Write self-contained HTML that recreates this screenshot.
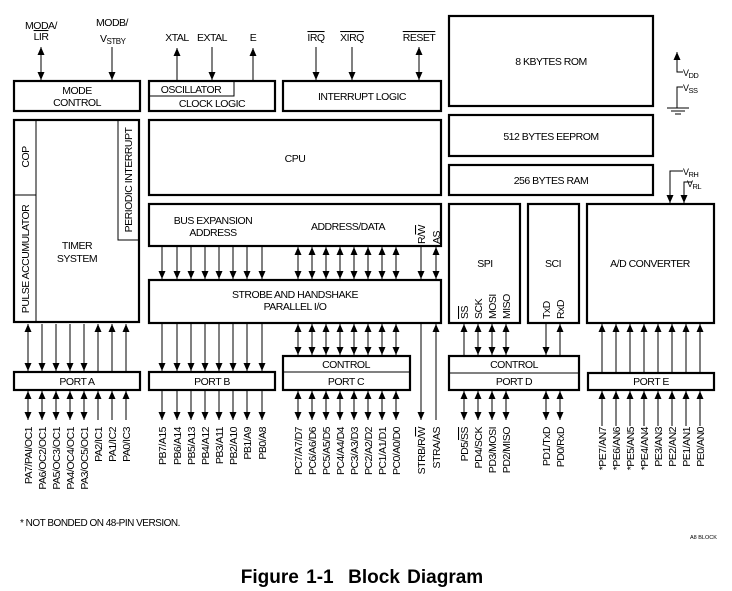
<!DOCTYPE html>
<html><head><meta charset="utf-8"><style>
html,body{margin:0;padding:0;background:#fff}
svg{display:block}
text{font-family:"Liberation Sans",Arial,sans-serif;font-size:10.5px;fill:#000;letter-spacing:-0.5px}
.b{fill:none;stroke:#000;stroke-width:2.2}
.l{stroke:#000;stroke-width:1;fill:none}
</style></head><body>
<svg width="732" height="591" viewBox="0 0 732 591" xmlns="http://www.w3.org/2000/svg">
<defs>
<marker id="a" markerUnits="userSpaceOnUse" markerWidth="8" markerHeight="10" refX="8" refY="3.5" orient="auto-start-reverse"><path d="M0,0 L8,3.5 L0,7 Z" fill="#000"/></marker>
</defs>

<rect class="b" x="14" y="81" width="126" height="30"/>
<text x="77" y="94" text-anchor="middle">MODE</text>
<text x="77" y="106" text-anchor="middle">CONTROL</text>
<rect class="b" x="149" y="81" width="126" height="30"/>
<path class="l" d="M149,96 H234 V81"/>
<text x="191" y="93" text-anchor="middle">OSCILLATOR</text>
<text x="212" y="107" text-anchor="middle">CLOCK LOGIC</text>
<rect class="b" x="283" y="81" width="158" height="30"/>
<text x="362" y="100" text-anchor="middle">INTERRUPT LOGIC</text>

<rect class="b" x="449" y="16" width="204" height="90"/>
<text x="551" y="65" text-anchor="middle">8 KBYTES ROM</text>
<rect class="b" x="449" y="115" width="204" height="41"/>
<text x="551" y="140" text-anchor="middle">512 BYTES EEPROM</text>
<rect class="b" x="449" y="165" width="204" height="30"/>
<text x="551" y="184" text-anchor="middle">256 BYTES RAM</text>

<rect class="b" x="14" y="120" width="125" height="202"/>
<path class="l" d="M36,120 V322 M14,195 H36 M118,120 V240 H139"/>
<text transform="translate(29,157) rotate(-90)" text-anchor="middle">COP</text>
<text transform="translate(29,259) rotate(-90)" text-anchor="middle">PULSE ACCUMULATOR</text>
<text transform="translate(132,180) rotate(-90)" text-anchor="middle">PERIODIC INTERRUPT</text>
<text x="77" y="249" text-anchor="middle">TIMER</text>
<text x="77" y="262" text-anchor="middle">SYSTEM</text>

<rect class="b" x="149" y="120" width="292" height="75"/>
<text x="295" y="162" text-anchor="middle">CPU</text>
<rect class="b" x="149" y="204" width="292" height="42"/>
<text x="213" y="224" text-anchor="middle">BUS EXPANSION</text>
<text x="213" y="236" text-anchor="middle">ADDRESS</text>
<text x="348" y="230" text-anchor="middle">ADDRESS/DATA</text>
<text transform="translate(425,244) rotate(-90)" text-anchor="start">R/<tspan text-decoration="overline">W</tspan></text>
<text transform="translate(440,244) rotate(-90)" text-anchor="start">AS</text>
<rect class="b" x="149" y="280" width="292" height="43"/>
<text x="295" y="298" text-anchor="middle">STROBE AND HANDSHAKE</text>
<text x="295" y="310" text-anchor="middle">PARALLEL I/O</text>

<rect class="b" x="449" y="204" width="71" height="119"/>
<text x="485" y="267" text-anchor="middle">SPI</text>
<rect class="b" x="528" y="204" width="51" height="119"/>
<text x="553" y="267" text-anchor="middle">SCI</text>
<rect class="b" x="587" y="204" width="127" height="119"/>
<text x="650" y="267" text-anchor="middle">A/D CONVERTER</text>
<text transform="translate(468,319) rotate(-90)"><tspan text-decoration="overline">SS</tspan></text>
<text transform="translate(482,319) rotate(-90)">SCK</text>
<text transform="translate(496,319) rotate(-90)">MOSI</text>
<text transform="translate(510,319) rotate(-90)">MISO</text>
<text transform="translate(550,319) rotate(-90)">TxD</text>
<text transform="translate(564,319) rotate(-90)">RxD</text>

<rect class="b" x="14" y="372" width="126" height="18"/>
<text x="77" y="385" text-anchor="middle">PORT A</text>
<rect class="b" x="149" y="372" width="126" height="18"/>
<text x="212" y="385" text-anchor="middle">PORT B</text>
<rect class="b" x="283" y="356" width="127" height="34"/>
<path class="l" d="M283,372 H410"/>
<text x="346" y="368" text-anchor="middle">CONTROL</text>
<text x="346" y="385" text-anchor="middle">PORT C</text>
<rect class="b" x="449" y="356" width="130" height="34"/>
<path class="l" d="M449,373 H579"/>
<text x="514" y="368" text-anchor="middle">CONTROL</text>
<text x="514" y="385" text-anchor="middle">PORT D</text>
<rect class="b" x="588" y="373" width="126" height="17"/>
<text x="651" y="385" text-anchor="middle">PORT E</text>

<text x="41" y="29" text-anchor="middle">MODA/</text>
<text x="41" y="40" text-anchor="middle"><tspan text-decoration="overline">LIR</tspan></text>
<line class="l" x1="41" y1="47" x2="41" y2="80" marker-start="url(#a)" marker-end="url(#a)"/>
<text x="112" y="26" text-anchor="middle">MODB/</text>
<text x="100" y="42">V<tspan font-size="8" dy="2">STBY</tspan></text>
<line class="l" x1="112" y1="47" x2="112" y2="80" marker-end="url(#a)"/>
<text x="177" y="41" text-anchor="middle">XTAL</text>
<line class="l" x1="177" y1="81" x2="177" y2="48" marker-end="url(#a)"/>
<text x="212" y="41" text-anchor="middle">EXTAL</text>
<line class="l" x1="212" y1="47" x2="212" y2="80" marker-end="url(#a)"/>
<text x="253" y="41" text-anchor="middle">E</text>
<line class="l" x1="253" y1="81" x2="253" y2="48" marker-end="url(#a)"/>
<text x="316" y="41" text-anchor="middle"><tspan text-decoration="overline">IRQ</tspan></text>
<line class="l" x1="316" y1="47" x2="316" y2="80" marker-end="url(#a)"/>
<text x="352" y="41" text-anchor="middle"><tspan text-decoration="overline">XIRQ</tspan></text>
<line class="l" x1="352" y1="47" x2="352" y2="80" marker-end="url(#a)"/>
<text x="419" y="41" text-anchor="middle"><tspan text-decoration="overline">RESET</tspan></text>
<line class="l" x1="419" y1="47" x2="419" y2="80" marker-start="url(#a)" marker-end="url(#a)"/>

<path class="l" d="M683,72 H677 V52" marker-end="url(#a)"/>
<text x="683" y="76" style="font-size:9px">V<tspan font-size="7.5" dy="2">DD</tspan></text>
<path class="l" d="M683,87 H677 V108 M667,108 H689 M671,111 H685 M675,114 H681"/>
<text x="683" y="91" style="font-size:9px">V<tspan font-size="7.5" dy="2">SS</tspan></text>
<path class="l" d="M683,171 H670 V203" marker-end="url(#a)"/>
<path class="l" d="M692,182 H684 V203" marker-end="url(#a)"/>
<text x="683" y="175" style="font-size:9px">V<tspan font-size="7.5" dy="2">RH</tspan></text>
<text x="687" y="187" style="font-size:9px">V<tspan font-size="7.5" dy="2">RL</tspan></text>

<g class="l">
<line x1="28" y1="324" x2="28" y2="371" marker-start="url(#a)" marker-end="url(#a)"/>
<line x1="42" y1="324" x2="42" y2="371" marker-end="url(#a)"/>
<line x1="56" y1="324" x2="56" y2="371" marker-end="url(#a)"/>
<line x1="70" y1="324" x2="70" y2="371" marker-end="url(#a)"/>
<line x1="84" y1="324" x2="84" y2="371" marker-end="url(#a)"/>
<line x1="98" y1="371" x2="98" y2="324" marker-end="url(#a)"/>
<line x1="112" y1="371" x2="112" y2="324" marker-end="url(#a)"/>
<line x1="126" y1="371" x2="126" y2="324" marker-end="url(#a)"/>
<line x1="28" y1="391" x2="28" y2="420" marker-start="url(#a)" marker-end="url(#a)"/>
<line x1="42" y1="391" x2="42" y2="420" marker-start="url(#a)" marker-end="url(#a)"/>
<line x1="56" y1="391" x2="56" y2="420" marker-start="url(#a)" marker-end="url(#a)"/>
<line x1="70" y1="391" x2="70" y2="420" marker-start="url(#a)" marker-end="url(#a)"/>
<line x1="84" y1="391" x2="84" y2="420" marker-start="url(#a)" marker-end="url(#a)"/>
<line x1="98" y1="420" x2="98" y2="391" marker-end="url(#a)"/>
<line x1="112" y1="420" x2="112" y2="391" marker-end="url(#a)"/>
<line x1="126" y1="420" x2="126" y2="391" marker-end="url(#a)"/>
<path marker-end="url(#a)" d="M162,247 V279"/><path marker-end="url(#a)" d="M177,247 V279"/><path marker-end="url(#a)" d="M191,247 V279"/><path marker-end="url(#a)" d="M205,247 V279"/><path marker-end="url(#a)" d="M219,247 V279"/><path marker-end="url(#a)" d="M233,247 V279"/><path marker-end="url(#a)" d="M247,247 V279"/><path marker-end="url(#a)" d="M262,247 V279"/>
<path marker-end="url(#a)" d="M162,324 V371"/><path marker-end="url(#a)" d="M177,324 V371"/><path marker-end="url(#a)" d="M191,324 V371"/><path marker-end="url(#a)" d="M205,324 V371"/><path marker-end="url(#a)" d="M219,324 V371"/><path marker-end="url(#a)" d="M233,324 V371"/><path marker-end="url(#a)" d="M247,324 V371"/><path marker-end="url(#a)" d="M262,324 V371"/>
<path marker-end="url(#a)" d="M162,391 V420"/><path marker-end="url(#a)" d="M177,391 V420"/><path marker-end="url(#a)" d="M191,391 V420"/><path marker-end="url(#a)" d="M205,391 V420"/><path marker-end="url(#a)" d="M219,391 V420"/><path marker-end="url(#a)" d="M233,391 V420"/><path marker-end="url(#a)" d="M247,391 V420"/><path marker-end="url(#a)" d="M262,391 V420"/>
<g marker-start="url(#a)" marker-end="url(#a)">
<path d="M298,247 V279"/><path d="M312,247 V279"/><path d="M326,247 V279"/><path d="M340,247 V279"/><path d="M354,247 V279"/><path d="M368,247 V279"/><path d="M382,247 V279"/><path d="M396,247 V279"/>
<path d="M298,324 V355"/><path d="M312,324 V355"/><path d="M326,324 V355"/><path d="M340,324 V355"/><path d="M354,324 V355"/><path d="M368,324 V355"/><path d="M382,324 V355"/><path d="M396,324 V355"/>
<path d="M298,391 V420"/><path d="M312,391 V420"/><path d="M326,391 V420"/><path d="M340,391 V420"/><path d="M354,391 V420"/><path d="M368,391 V420"/><path d="M382,391 V420"/><path d="M396,391 V420"/>
<path d="M436,247 V279"/>
<path d="M478,324 V355"/><path d="M492,324 V355"/><path d="M506,324 V355"/>
<path d="M464,391 V420"/><path d="M478,391 V420"/><path d="M492,391 V420"/><path d="M506,391 V420"/>
<path d="M546,391 V420"/><path d="M560,391 V420"/>
</g>
<path marker-end="url(#a)" d="M421,247 V279"/>
<path marker-end="url(#a)" d="M421,324 V420"/>
<path marker-end="url(#a)" d="M436,420 V324"/>
<path marker-end="url(#a)" d="M464,355 V324"/>
<path marker-end="url(#a)" d="M546,324 V355"/>
<path marker-end="url(#a)" d="M560,355 V324"/>
<path marker-end="url(#a)" d="M602,372 V324"/><path marker-end="url(#a)" d="M616,372 V324"/><path marker-end="url(#a)" d="M630,372 V324"/><path marker-end="url(#a)" d="M644,372 V324"/><path marker-end="url(#a)" d="M658,372 V324"/><path marker-end="url(#a)" d="M672,372 V324"/><path marker-end="url(#a)" d="M686,372 V324"/><path marker-end="url(#a)" d="M700,372 V324"/>
<path marker-end="url(#a)" d="M602,426 V391"/><path marker-end="url(#a)" d="M616,426 V391"/><path marker-end="url(#a)" d="M630,426 V391"/><path marker-end="url(#a)" d="M644,426 V391"/><path marker-end="url(#a)" d="M658,426 V391"/><path marker-end="url(#a)" d="M672,426 V391"/><path marker-end="url(#a)" d="M686,426 V391"/><path marker-end="url(#a)" d="M700,426 V391"/>
</g>

<g text-anchor="end">
<text transform="translate(32,427) rotate(-90)">PA7/PAI/OC1</text>
<text transform="translate(46,427) rotate(-90)">PA6/OC2/OC1</text>
<text transform="translate(60,427) rotate(-90)">PA5/OC3/OC1</text>
<text transform="translate(74,427) rotate(-90)">PA4/OC4/OC1</text>
<text transform="translate(88,427) rotate(-90)">PA3/OC5/OC1</text>
<text transform="translate(102,427) rotate(-90)">PA2/IC1</text>
<text transform="translate(116,427) rotate(-90)">PA1/IC2</text>
<text transform="translate(130,427) rotate(-90)">PA0/IC3</text>
<text transform="translate(166,427) rotate(-90)">PB7/A15</text>
<text transform="translate(181,427) rotate(-90)">PB6/A14</text>
<text transform="translate(195,427) rotate(-90)">PB5/A13</text>
<text transform="translate(209,427) rotate(-90)">PB4/A12</text>
<text transform="translate(223,427) rotate(-90)">PB3/A11</text>
<text transform="translate(237,427) rotate(-90)">PB2/A10</text>
<text transform="translate(251,427) rotate(-90)">PB1/A9</text>
<text transform="translate(266,427) rotate(-90)">PB0/A8</text>
<text transform="translate(302,427) rotate(-90)">PC7/A7/D7</text>
<text transform="translate(316,427) rotate(-90)">PC6/A6/D6</text>
<text transform="translate(330,427) rotate(-90)">PC5/A5/D5</text>
<text transform="translate(344,427) rotate(-90)">PC4/A4/D4</text>
<text transform="translate(358,427) rotate(-90)">PC3/A3/D3</text>
<text transform="translate(372,427) rotate(-90)">PC2/A2/D2</text>
<text transform="translate(386,427) rotate(-90)">PC1/A1/D1</text>
<text transform="translate(400,427) rotate(-90)">PC0/A0/D0</text>
<text transform="translate(425,427) rotate(-90)">STRB/R/<tspan text-decoration="overline">W</tspan></text>
<text transform="translate(440,427) rotate(-90)">STRA/AS</text>
<text transform="translate(468,427) rotate(-90)">PD5/<tspan text-decoration="overline">SS</tspan></text>
<text transform="translate(482,427) rotate(-90)">PD4/SCK</text>
<text transform="translate(496,427) rotate(-90)">PD3/MOSI</text>
<text transform="translate(510,427) rotate(-90)">PD2/MISO</text>
<text transform="translate(550,427) rotate(-90)">PD1/TxD</text>
<text transform="translate(564,427) rotate(-90)">PD0/RxD</text>
<text transform="translate(606,427) rotate(-90)">*PE7/AN7</text>
<text transform="translate(620,427) rotate(-90)">*PE6/AN6</text>
<text transform="translate(634,427) rotate(-90)">*PE5/AN5</text>
<text transform="translate(648,427) rotate(-90)">*PE4/AN4</text>
<text transform="translate(662,427) rotate(-90)">PE3/AN3</text>
<text transform="translate(676,427) rotate(-90)">PE2/AN2</text>
<text transform="translate(690,427) rotate(-90)">PE1/AN1</text>
<text transform="translate(704,427) rotate(-90)">PE0/AN0</text>
</g>

<text x="20" y="526" style="font-size:10px">* NOT BONDED ON 48-PIN VERSION.</text>
<text x="690" y="539" style="font-size:5.5px;letter-spacing:0">A8 BLOCK</text>
<text x="362" y="583" text-anchor="middle" style="font-size:19px;font-weight:bold;letter-spacing:0;word-spacing:2px" xml:space="preserve">Figure 1-1  Block Diagram</text>
</svg>
</body></html>
